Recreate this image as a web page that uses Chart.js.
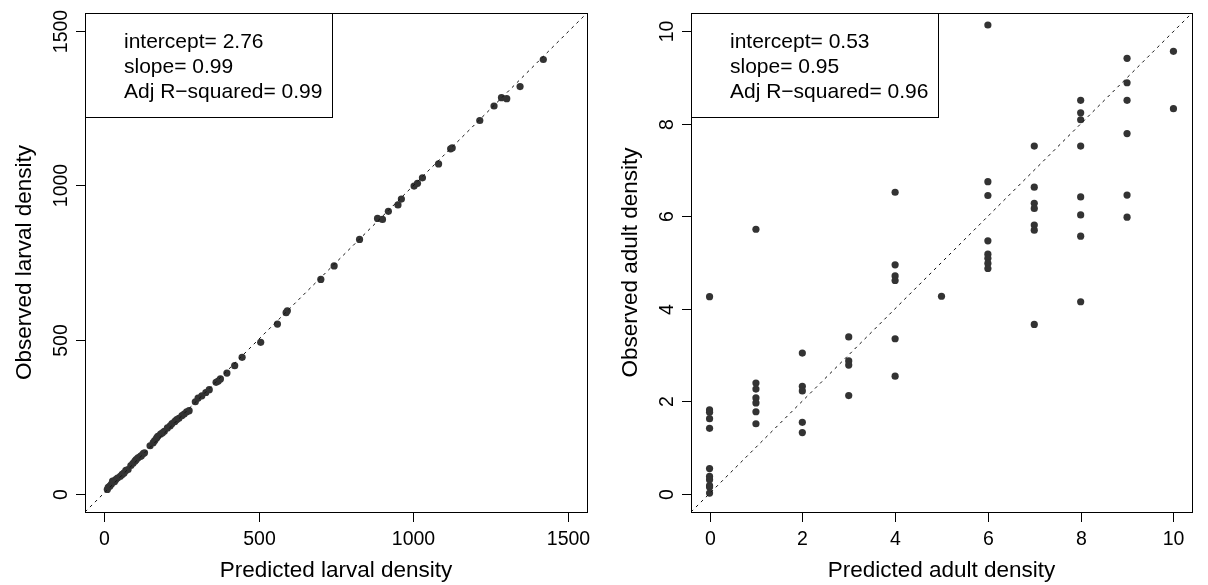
<!DOCTYPE html>
<html>
<head>
<meta charset="utf-8">
<title>Observed vs predicted density</title>
<script src="https://cdn.jsdelivr.net/npm/chart.js@4.4.1/dist/chart.umd.min.js"></script>
<style>
    body { margin: 0; background: #fff; }
    .panel { position: absolute; top: 0; }
    #larvalPanel { left: 0; }
    #adultPanel { left: 604px; }
</style>
</head>
<body>
<canvas id="larvalPanel" class="panel" width="604" height="585"></canvas>
<canvas id="adultPanel" class="panel" width="604" height="585"></canvas>
<script>
// Larval density: predicted vs observed
const larvalPredicted = [12, 15, 20, 25, 29, 35, 39, 45, 54, 60, 66, 72, 79, 88, 95, 101, 105, 111, 118, 122, 128,
    132, 150, 160, 165, 171, 175, 184, 190, 196, 206, 215, 221, 230, 236, 243, 253, 260, 268, 276, 296, 305, 317,
    330, 341, 363, 370, 377, 398, 423, 447, 507, 561, 589, 593, 701, 744, 826, 884, 900, 919, 950, 961, 1002, 1013,
    1029, 1081, 1120, 1125, 1214, 1260, 1284, 1301, 1344, 1419];
const larvalObserved = [13, 20, 24, 30, 40, 38, 45, 50, 56, 62, 67, 75, 78, 91, 98, 105, 110, 116, 120, 123, 130,
    132, 155, 165, 172, 180, 186, 193, 197, 202, 213, 220, 227, 234, 240, 244, 253, 258, 265, 269, 298, 310, 317,
    328, 337, 361, 365, 372, 391, 415, 442, 491, 550, 587, 593, 695, 739, 825, 893, 890, 916, 937, 956, 998, 1007,
    1025, 1070, 1119, 1122, 1211, 1258, 1285, 1282, 1321, 1409];
const larvalTicks = [0, 500, 1000, 1500];
const larvalStats = ['intercept= 2.76', 'slope= 0.99', 'Adj R\u2212squared= 0.99'];

// Adult density: predicted vs observed
const adultPredicted = [0, 0, 0, 0, 0, 0, 0, 0, 0, 0, 0,
    1, 1, 1, 1, 1, 1, 1,
    2, 2, 2, 2, 2,
    3, 3, 3, 3,
    4, 4, 4, 4, 4, 4,
    5,
    6, 6, 6, 6, 6, 6, 6, 6,
    7, 7, 7, 7, 7, 7, 7,
    8, 8, 8, 8, 8, 8, 8, 8,
    9, 9, 9, 9, 9, 9,
    10, 10];
const adultObserved = [4.26, 1.81, 1.76, 1.62, 1.41, 0.54, 0.37, 0.30, 0.17, 0.14, 0.01,
    5.72, 2.39, 2.26, 2.07, 1.96, 1.77, 1.51,
    3.04, 2.32, 2.22, 1.54, 1.32,
    3.39, 2.87, 2.78, 2.12,
    6.52, 4.95, 4.71, 4.61, 3.35, 2.54,
    4.27,
    10.14, 6.75, 6.45, 5.47, 5.18, 5.09, 4.98, 4.87,
    7.52, 6.63, 6.28, 6.17, 5.81, 5.70, 3.66,
    8.51, 8.24, 8.09, 7.52, 6.42, 6.03, 5.57, 4.15,
    9.42, 8.89, 8.51, 7.79, 6.46, 5.98,
    9.57, 8.33];
const adultTicks = [0, 2, 4, 6, 8, 10];
const adultStats = ['intercept= 0.53', 'slope= 0.95', 'Adj R\u2212squared= 0.96'];

const FONT = '"Liberation Sans", Arial, sans-serif';

// R-style frame: box, outward ticks, rotated y labels, 1:1 line, fit summary box
const rFrame = {
    id: 'rFrame',
    afterDatasetsDraw(chart) {
        const opts = chart.options.plugins.rFrame;
        const ctx = chart.ctx;
        const area = chart.chartArea;
        const xs = chart.scales.x;
        const ys = chart.scales.y;

        // 1:1 reference line, clipped to plot area
        ctx.save();
        ctx.beginPath();
        ctx.rect(area.left, area.top, area.right - area.left, area.bottom - area.top);
        ctx.clip();
        ctx.strokeStyle = '#111';
        ctx.lineWidth = 1;
        ctx.setLineDash([3, 4]);
        ctx.beginPath();
        ctx.moveTo(xs.getPixelForValue(xs.min), ys.getPixelForValue(xs.min));
        ctx.lineTo(xs.getPixelForValue(xs.max), ys.getPixelForValue(xs.max));
        ctx.stroke();
        ctx.restore();

        ctx.save();
        ctx.strokeStyle = '#000';
        ctx.fillStyle = '#000';
        ctx.lineWidth = 1;

        // box around the plot
        ctx.strokeRect(Math.round(area.left) + 0.5, Math.round(area.top) + 0.5,
            Math.round(area.right - area.left), Math.round(area.bottom - area.top));

        // x ticks and labels
        ctx.font = '19.5px ' + FONT;
        ctx.textAlign = 'center';
        ctx.textBaseline = 'alphabetic';
        opts.ticks.forEach(v => {
            const px = Math.round(xs.getPixelForValue(v)) + 0.5;
            ctx.beginPath();
            ctx.moveTo(px, area.bottom);
            ctx.lineTo(px, area.bottom + 10);
            ctx.stroke();
            ctx.fillText(String(v), px, area.bottom + 33);
        });

        // y ticks and rotated labels
        opts.ticks.forEach(v => {
            const py = Math.round(ys.getPixelForValue(v)) + 0.5;
            ctx.beginPath();
            ctx.moveTo(area.left, py);
            ctx.lineTo(area.left - 9, py);
            ctx.stroke();
            ctx.save();
            ctx.translate(area.left - 18, py);
            ctx.rotate(-Math.PI / 2);
            ctx.fillText(String(v), 0, 0);
            ctx.restore();
        });

        // axis titles
        ctx.font = '22.5px ' + FONT;
        const midX = (area.left + area.right) / 2;
        const midY = (area.top + area.bottom) / 2;
        ctx.fillText(opts.xTitle, midX, area.bottom + 65);
        ctx.save();
        ctx.translate(area.left - 54, midY);
        ctx.rotate(-Math.PI / 2);
        ctx.fillText(opts.yTitle, 0, 0);
        ctx.restore();

        // fit summary box
        const boxW = 247, boxH = 104;
        ctx.fillStyle = '#fff';
        ctx.fillRect(area.left + 1, area.top + 1, boxW - 1, boxH - 1);
        ctx.strokeRect(Math.round(area.left) + 0.5, Math.round(area.top) + 0.5, boxW, boxH);
        ctx.fillStyle = '#000';
        ctx.font = '21px ' + FONT;
        ctx.textAlign = 'left';
        opts.stats.forEach((line, i) => {
            ctx.fillText(line, area.left + 39, area.top + 35 + i * 25);
        });
        ctx.restore();
    }
};

function makePanel(canvasId, predicted, observed, ticks, stats, xTitle, yTitle, padLeft, padRight) {
    const lo = ticks[0];
    const hi = ticks[ticks.length - 1];
    const ext = (hi - lo) * 0.04;
    const points = predicted.map((p, i) => ({ x: p, y: observed[i] }));
    return new Chart(document.getElementById(canvasId), {
        type: 'scatter',
        data: {
            datasets: [{
                data: points,
                backgroundColor: '#333333',
                borderWidth: 0,
                pointRadius: 3.6,
                pointHoverRadius: 3.6
            }]
        },
        options: {
            responsive: false,
            animation: false,
            events: [],
            layout: {
                padding: { left: padLeft, right: padRight, top: 13, bottom: 73 }
            },
            scales: {
                x: { type: 'linear', min: lo - ext, max: hi + ext, display: false },
                y: { type: 'linear', min: lo - ext, max: hi + ext, display: false }
            },
            plugins: {
                legend: { display: false },
                tooltip: { enabled: false },
                rFrame: { ticks: ticks, stats: stats, xTitle: xTitle, yTitle: yTitle }
            }
        },
        plugins: [rFrame]
    });
}

makePanel('larvalPanel', larvalPredicted, larvalObserved, larvalTicks, larvalStats,
    'Predicted larval density', 'Observed larval density', 85, 17);
makePanel('adultPanel', adultPredicted, adultObserved, adultTicks, adultStats,
    'Predicted adult density', 'Observed adult density', 87, 16);
</script>
</body>
</html>
